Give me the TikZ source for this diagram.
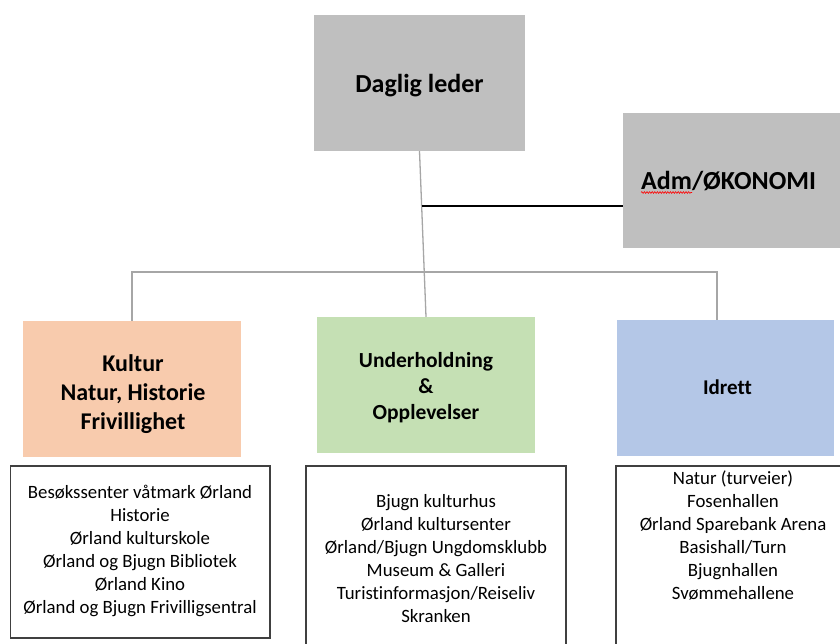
\documentclass[tikz,border=0pt]{standalone}
\usepackage{fontspec}
\setmainfont[Ligatures=NoCommon]{Carlito}
\usetikzlibrary{decorations.pathmorphing,calc}
\definecolor{boxgray}{HTML}{BFBFBF}
\definecolor{kulturfill}{HTML}{F8CBAD}
\definecolor{underfill}{HTML}{C5E0B4}
\definecolor{idrettfill}{HTML}{B4C7E7}
\definecolor{linegray}{HTML}{A6A6A6}
\definecolor{listborder}{HTML}{404040}
\tikzset{
  headbox/.style={draw=none, inner sep=0pt},
  headtext/.style={inner sep=0pt, align=center, font=\bfseries},
  listbox/.style={draw=listborder, line width=1.2pt, inner sep=0pt},
  listtext/.style={inner sep=0pt, align=center, anchor=north, font=\fontsize{18.8}{23}\selectfont},
  grayline/.style={draw=linegray, line width=1.3pt},
  blackline/.style={draw=black, line width=1.3pt}
}
\begin{document}
\begin{tikzpicture}[x=1pt,y=-1pt]
\useasboundingbox (0,0) rectangle (840,644);
% top boxes
\node[headbox, fill=boxgray, minimum width=211pt, minimum height=136pt] (lead) at (419.5,83) {};
\node[headtext, font=\bfseries\fontsize{26}{31}\selectfont] (leadtxt) at ($(lead.center)+(0,3)$) {Daglig leder};
\node[headbox, fill=boxgray, anchor=west, minimum width=227pt, minimum height=135pt] (adm) at (623,180.5) {};
\node[headtext, anchor=west, font=\bfseries\fontsize{26}{31}\selectfont] (admtxt) at (641,181.5) {Adm/ØKONOMI};
% department boxes
\node[headbox, fill=kulturfill, minimum width=218pt, minimum height=136pt] (kultur) at (132,389) {};
\node[headtext, font=\bfseries\fontsize{24}{29}\selectfont] (kulturhead) at ($(kultur.center)+(1,5)$) {Kultur\\Natur, Historie\\Frivillighet};
\node[headbox, fill=underfill, minimum width=218pt, minimum height=136pt] (under) at (426,385) {};
\node[headtext, font=\bfseries\fontsize{21.5}{26}\selectfont] (underhead) at ($(under.center)+(0,3)$) {Underholdning\\\&\\Opplevelser};
\node[headbox, fill=idrettfill, minimum width=217pt, minimum height=136pt] (idrett) at (725.5,388) {};
\node[headtext, font=\bfseries\fontsize{21}{25}\selectfont] (idretthead) at ($(idrett.center)+(2,-1)$) {Idrett};
% spell-check squiggle under Adm
\coordinate (sqA) at (641,192.5);
\coordinate (sqB) at (692,192.5);
\draw[red, line width=0.6pt, decorate, decoration={snake, amplitude=0.9pt, segment length=2.6pt}] (sqA) -- (sqB);
% connectors
\draw[grayline] (lead.south) -- (under.north);
\path (lead.south) -- (under.north) coordinate[pos=0.331] (junc);
\draw[blackline] (junc) -- (junc -| adm.west);
\coordinate (busL) at (132,272);
\coordinate (busR) at (717,272);
\draw[grayline] (kultur.north) -- (busL) -- (busR) -- (busR |- idrett.north);
% list boxes
\node[listbox, minimum width=259.3pt, minimum height=172pt] (kulturlist) at (140.35,552) {};
\node[listbox, minimum width=260pt, minimum height=189pt] (underlist) at (436,560.5) {};
\node[listbox, minimum width=236pt, minimum height=189pt] (idrettlist) at (734,560.5) {};
\node[listtext] (kulturtxt) at (140,484.5) {Besøkssenter våtmark Ørland\\Historie\\Ørland kulturskole\\Ørland og Bjugn Bibliotek\\Ørland Kino\\Ørland og Bjugn Frivilligsentral};
\node[listtext] (undertxt) at (436,494.5) {Bjugn kulturhus\\Ørland kultursenter\\Ørland/Bjugn Ungdomsklubb\\Museum \& Galleri\\Turistinformasjon/Reiseliv\\Skranken};
\node[listtext] (idretttxt) at (733,471) {Natur (turveier)\\Fosenhallen\\Ørland Sparebank Arena\\Basishall/Turn\\Bjugnhallen\\Svømmehallene};
\end{tikzpicture}
\end{document}
